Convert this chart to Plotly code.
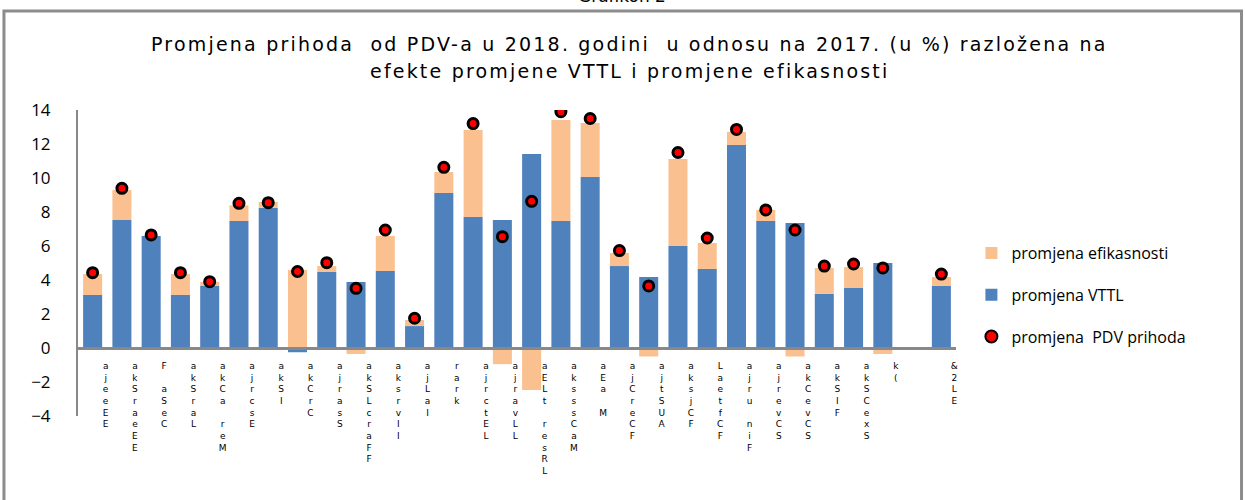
import plotly.graph_objects as go

categories = [f"k{i}" for i in range(1, 31)]
tick_labels = [
    "a j e e E E", "a k S r a e E E", "F  a S e C", "a k S r a L", "a k C a  r e M",
    "a j r c s E", "a k S I", "a k C r C", "a j r a s S", "a k S L c r a F F",
    "a k s r v I I", "a j L a I", "r a r k", "a j r c t E L", "a j r a v L L",
    "a E L t  r e s R L", "a k s s s C a M", "a E a  M", "a j C r e C F", "a j t S U A",
    "a k s j C F", "L a e t f C F", "a j r u  n i F", "a j r e v C S", "a k C e v C S",
    "a k S I F", "a k S C e x S", "k (", "", "& 2 L E",
]
vttl = [3.12, 7.53, 6.59, 3.12, 3.65, 7.47, 8.24, -0.25, 4.47, 3.88,
        4.53, 1.29, 9.12, 7.71, 7.53, 11.41, 7.47, 10.06, 4.82, 4.18,
        6.00, 4.65, 11.94, 7.47, 7.35, 3.18, 3.53, 5.00, None, 3.65]
efik = [1.23, 1.76, -0.10, 1.23, 0.23, 0.92, 0.35, 4.59, 0.35, -0.35,
        2.06, 0.36, 1.23, 5.11, -0.95, -2.47, 5.94, 3.18, 0.77, -0.50,
        5.12, 1.53, 0.77, 0.65, -0.50, 1.53, 1.23, -0.35, None, 0.53]
pdv = [4.43, 9.39, 6.65, 4.43, 3.90, 8.51, 8.55, 4.50, 5.02, 3.51,
       6.94, 1.75, 10.63, 13.20, 6.55, 8.63, 13.90, 13.50, 5.73, 3.65,
       11.50, 6.47, 12.86, 8.12, 6.94, 4.82, 4.94, 4.71, None, 4.35]

BLUE = "#4F81BD"
ORANGE = "#FAC090"

fig = go.Figure()
fig.add_trace(go.Bar(x=categories, y=vttl, name="promjena VTTL", legendgroup="g2",
                     marker=dict(color=BLUE, line=dict(width=0)), legendrank=2))
fig.add_trace(go.Bar(x=categories, y=efik, name="promjena efikasnosti", legendgroup="g1",
                     marker=dict(color=ORANGE, line=dict(width=0)), legendrank=1))
fig.add_trace(go.Scatter(x=categories, y=pdv, name="promjena  PDV prihoda", mode="markers",
                         legendgroup="g3",
                         marker=dict(symbol="circle", size=10, color="#FF0000",
                                     line=dict(color="#000000", width=3)),
                         legendrank=3))

ticktext = ["<br>".join(s.split(" ")) if s else "" for s in tick_labels]

L, R, T, B = 78, 289.4, 110, 84
W, H = 1245, 500
pw = W - L - R
ph = H - T - B

def px_x(p):
    return (p - L) / pw

def px_y(p):
    return (H - B - p) / ph

TITLE_STYLE = "letter-spacing:2.2px"

fig.update_layout(
    width=W, height=H,
    margin=dict(l=L, r=R, t=T, b=B, pad=0, autoexpand=False),
    paper_bgcolor="white", plot_bgcolor="white",
    barmode="relative", bargap=0.35,
    font=dict(family="Open Sans, DejaVu Sans, sans-serif", color="#000000"),
    showlegend=True,
    legend=dict(x=px_x(971), y=px_y(236), xanchor="left", yanchor="top",
                traceorder="grouped", font=dict(size=16, family="Open Sans"),
                tracegroupgap=18, itemsizing="constant",
                bgcolor="rgba(0,0,0,0)"),
    xaxis=dict(type="category", categoryorder="array", categoryarray=categories,
               range=[-0.5, 29.5], automargin=False,
               tickvals=categories, ticktext=ticktext,
               anchor="free", position=4 / 18,
               showline=True, linecolor="#888888", linewidth=3,
               ticks="", showgrid=False, zeroline=False, tickangle=0,
               ticklabelshift=13, ticklabelstandoff=8,
               tickfont=dict(size=9, family="DejaVu Sans", color="#000000")),
    yaxis=dict(range=[-4, 14], tickvals=list(range(-4, 15, 2)), automargin=False,
               showline=True, linecolor="#888888", linewidth=2,
               ticks="", showgrid=False, zeroline=False,
               ticklabelstandoff=22,
               tickfont=dict(size=17, family="Open Sans", color="#000000")),
    annotations=[
        dict(xref="paper", yref="paper", x=px_x(629), y=px_y(44),
             text=f"<span style='{TITLE_STYLE}'>Promjena prihoda  od PDV-a u 2018. godini  u odnosu na 2017. (u %) razložena na</span>",
             showarrow=False, xanchor="center", yanchor="middle",
             font=dict(size=19, family="DejaVu Sans", color="#000000")),
        dict(xref="paper", yref="paper", x=px_x(629), y=px_y(71),
             text=f"<span style='{TITLE_STYLE}'>efekte promjene VTTL i promjene efikasnosti</span>",
             showarrow=False, xanchor="center", yanchor="middle",
             font=dict(size=19, family="DejaVu Sans", color="#000000")),
        dict(xref="paper", yref="paper", x=px_x(622), y=px_y(-4),
             text="Grafikon 2", showarrow=False, xanchor="center", yanchor="middle",
             font=dict(size=17, family="DejaVu Sans", color="#000000")),
    ],
    shapes=[
        dict(type="rect", xref="paper", yref="paper",
             x0=px_x(4), x1=px_x(1241), y0=px_y(520), y1=px_y(11),
             line=dict(color="#8C8C8C", width=3), fillcolor="rgba(0,0,0,0)", layer="below"),
    ],
)

fig.write_html("out.html", config={"displayModeBar": False},
               post_script="document.body.style.margin='0';")
